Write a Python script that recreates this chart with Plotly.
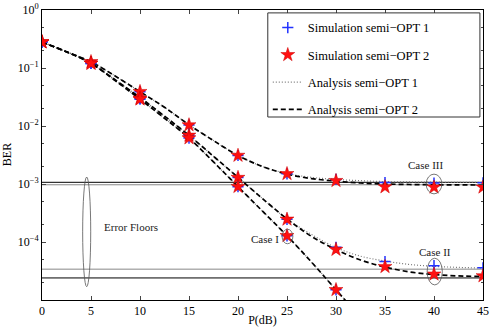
import numpy as np
import plotly.graph_objects as go

# simulation points (every 5 dB)
p_sim = [0, 5, 10, 15, 20, 25, 30, 35, 40, 45]
sim1_case3 = [0.28, 0.128, 0.039, 0.0104, 3.1e-3, 1.5e-3, 1.2e-3, 1.06e-3, 1.04e-3, 1.05e-3]
sim2_case3 = [0.28, 0.128, 0.039, 0.0104, 3.1e-3, 1.5e-3, 1.14e-3, 8.9e-4, 8.8e-4, 8.8e-4]
sim1_case2 = [0.28, 0.12, 0.03, 0.0069, 1.29e-3, 2.46e-4, 8.1e-5, 4.6e-5, 3.9e-5, 3.6e-5]
sim2_case2 = [0.28, 0.12, 0.03, 0.0069, 1.29e-3, 2.46e-4, 7.4e-5, 3.75e-5, 2.78e-5, 2.6e-5]
p_sim_case1 = [0, 5, 10, 15, 20, 25, 30]
sim_case1 = [0.28, 0.12, 0.029, 0.0062, 9e-4, 1.28e-4, 1.5e-5]

# analysis curves (every 2.5 dB)
p_ana = [0, 2.5, 5, 7.5, 10, 12.5, 15, 17.5, 20, 22.5, 25, 27.5, 30, 32.5, 35, 37.5, 40, 42.5, 45]
ana1_case3 = [0.28, 0.19, 0.128, 0.072, 0.039, 0.021, 0.0105, 0.0056, 3.1e-3, 2.0e-3, 1.52e-3,
              1.3e-3, 1.2e-3, 1.14e-3, 1.1e-3, 1.085e-3, 1.075e-3, 1.07e-3, 1.065e-3]
ana2_case3 = [0.28, 0.19, 0.128, 0.072, 0.039, 0.021, 0.0105, 0.0056, 3.1e-3, 2.0e-3, 1.48e-3,
              1.24e-3, 1.12e-3, 1.04e-3, 1.0e-3, 0.98e-3, 0.97e-3, 0.965e-3, 0.96e-3]
ana1_case2 = [0.28, 0.19, 0.12, 0.062, 0.031, 0.0148, 0.0069, 0.003, 1.3e-3, 5.6e-4, 2.5e-4,
              1.35e-4, 8.0e-5, 5.7e-5, 4.7e-5, 4.1e-5, 3.8e-5, 3.65e-5, 3.55e-5]
ana2_case2 = [0.28, 0.19, 0.12, 0.062, 0.031, 0.0148, 0.0069, 0.003, 1.3e-3, 5.6e-4, 2.5e-4,
              1.25e-4, 7.4e-5, 4.9e-5, 3.7e-5, 3.05e-5, 2.75e-5, 2.6e-5, 2.55e-5]
p_ana_case1 = [0, 2.5, 5, 7.5, 10, 12.5, 15, 17.5, 20, 22.5, 25, 27.5, 30, 32.5]
ana_case1 = [0.28, 0.19, 0.12, 0.06, 0.029, 0.0136, 0.0062, 0.0024, 9e-4, 3.4e-4, 1.28e-4, 4.5e-5, 1.5e-5, 5e-6]

# error floor levels
floor_vals = [1.07e-3, 9.7e-4, 3.4e-5, 2.4e-5]
floor_cols = ['black', '#888888', '#888888', 'black']

FONT = 'Liberation Serif'
YMIN, YMAX = -5, 0
fig = go.Figure()

for v, c in zip(floor_vals, floor_cols):
    fig.add_trace(go.Scatter(x=[0, 45], y=[v, v], mode='lines', line=dict(color=c, width=1),
                             showlegend=False, hoverinfo='skip'))

dot_style = dict(color='#777777', width=1.2, dash='1px,2px')
dash_style = dict(color='black', width=1.7, dash='5px,3px')

for i, (x, y) in enumerate([(p_ana, ana1_case3), (p_ana, ana1_case2), (p_ana_case1, ana_case1)]):
    fig.add_trace(go.Scatter(x=x, y=y, mode='lines', line=dict(shape='spline', **dot_style),
                             name='Analysis semi\u2212OPT 1', legendgroup='a1', legendrank=3,
                             showlegend=(i == 0)))
for i, (x, y) in enumerate([(p_ana, ana2_case3), (p_ana, ana2_case2), (p_ana_case1, ana_case1)]):
    fig.add_trace(go.Scatter(x=x, y=y, mode='lines', line=dict(shape='spline', **dash_style),
                             name='Analysis semi\u2212OPT 2', legendgroup='a2', legendrank=4,
                             showlegend=(i == 0)))

plus = dict(symbol='cross-thin', size=8, line=dict(color='#2233ff', width=1.5))
star = dict(symbol='star', size=10.5, color='#ff1010', line=dict(color='#cc0000', width=0.5))

for i, (x, y) in enumerate([(p_sim, sim1_case3), (p_sim, sim1_case2), (p_sim_case1, sim_case1)]):
    fig.add_trace(go.Scatter(x=x, y=y, mode='markers', marker=plus,
                             name='Simulation semi\u2212OPT 1', legendgroup='s1', legendrank=1,
                             showlegend=(i == 0)))
for i, (x, y) in enumerate([(p_sim, sim2_case3), (p_sim, sim2_case2), (p_sim_case1, sim_case1)]):
    fig.add_trace(go.Scatter(x=x, y=y, mode='markers', marker=star,
                             name='Simulation semi\u2212OPT 2', legendgroup='s2', legendrank=2,
                             showlegend=(i == 0)))


def paper_y(logv):
    return (logv - YMIN) / (YMAX - YMIN)


# ellipses: x in data units, y as log10 value
ell = [(4.15, 4.97, -4.77, -2.88), (24.5, 25.6, -4.03, -3.78),
       (39.3, 40.85, -4.74, -4.28), (39.2, 40.8, -3.17, -2.83)]
for x0, x1, y0, y1 in ell:
    fig.add_shape(type='circle', xref='x', yref='paper', x0=x0, x1=x1,
                  y0=paper_y(y0), y1=paper_y(y1), line=dict(color='#555555', width=0.8))

# legend frame
fig.add_shape(type='rect', xref='paper', yref='paper', x0=0.512, x1=0.993, y0=0.631, y1=0.99,
              line=dict(color='#333333', width=1), fillcolor='white', layer='above')

notes = [(9.1, -3.74, 'Error Floors'), (22.8, -3.95, 'Case I'),
         (40.1, -4.17, 'Case II'), (39.1, -2.67, 'Case III')]
for x, y, t in notes:
    fig.add_annotation(x=x, y=y, text=t, showarrow=False, font=dict(family=FONT, size=11, color='#222'))

# y-axis title
fig.add_annotation(xref='paper', yref='paper', x=-0.079, y=0.5, xanchor='center', yanchor='middle',
                   text='BER', textangle=-90, showarrow=False,
                   font=dict(family=FONT, size=12, color='black'))

dec = [-4, -3, -2, -1, 0]
fig.update_layout(
    width=491, height=327, margin=dict(l=42, r=8, t=10, b=27, autoexpand=False),
    paper_bgcolor='white', plot_bgcolor='white',
    font=dict(family=FONT, size=12, color='black'),
    showlegend=True,
    legend=dict(x=0.512, y=0.99, xanchor='left', yanchor='top', bgcolor='rgba(0,0,0,0)',
                borderwidth=0, tracegroupgap=8, font=dict(family=FONT, size=12.5)),
    xaxis=dict(range=[0, 45], tickvals=list(range(0, 50, 5)), ticks='inside', ticklen=4,
               showline=True, linecolor='black', linewidth=1, mirror='ticks', showgrid=False,
               zeroline=False, automargin=False, ticklabeloverflow='allow',
               title=dict(text='P(dB)', standoff=2, font=dict(size=12))),
    yaxis=dict(type='log', range=[YMIN, YMAX], tickvals=[10.0 ** d for d in dec],
               ticktext=['10<sup>\u2212%d</sup>' % -d if d else '10<sup>0</sup>' for d in dec],
               ticks='inside', ticklen=4, showline=True, linecolor='black', linewidth=1,
               mirror='ticks', showgrid=False, zeroline=False, automargin=False,
               ticklabeloverflow='allow',
               minor=dict(ticks='inside', ticklen=2, showgrid=False)),
)

fig.write_html('out.html', config={'displayModeBar': False},
               post_script="document.body.style.margin='0';"
                           "document.documentElement.style.overflow='hidden';")
